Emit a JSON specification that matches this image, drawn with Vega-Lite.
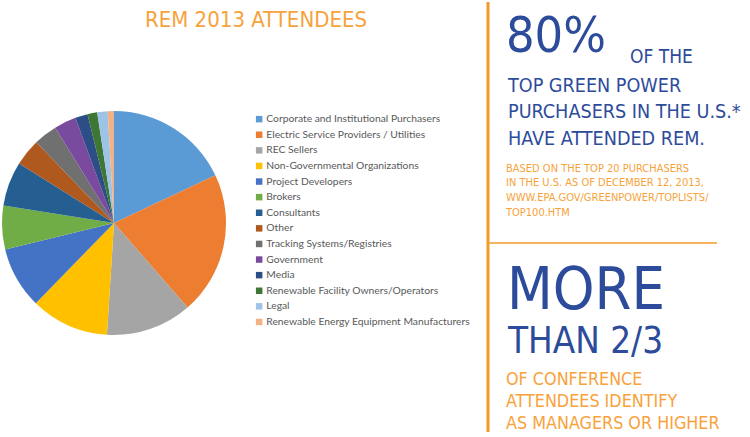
{
  "$schema": "https://vega.github.io/schema/vega-lite/v6.json",
  "width": 750,
  "height": 437,
  "autosize": {"type": "fit", "contains": "padding"},
  "padding": 0,
  "background": "white",
  "config": {"view": {"stroke": null}},
  "data": {
    "values": [
      {"idx": 1, "group": "Corporate and Institutional Purchasers", "share": 18.0},
      {"idx": 2, "group": "Electric Service Providers / Utilities", "share": 20.6},
      {"idx": 3, "group": "REC Sellers", "share": 12.4},
      {"idx": 4, "group": "Non-Governmental Organizations", "share": 11.3},
      {"idx": 5, "group": "Project Developers", "share": 8.9},
      {"idx": 6, "group": "Brokers", "share": 6.3},
      {"idx": 7, "group": "Consultants", "share": 6.4},
      {"idx": 8, "group": "Other", "share": 3.9},
      {"idx": 9, "group": "Tracking Systems/Registries", "share": 3.4},
      {"idx": 10, "group": "Government", "share": 3.2},
      {"idx": 11, "group": "Media", "share": 1.8},
      {"idx": 12, "group": "Renewable Facility Owners/Operators", "share": 1.4},
      {"idx": 13, "group": "Legal", "share": 1.5},
      {"idx": 14, "group": "Renewable Energy Equipment Manufacturers", "share": 0.9}
    ]
  },
  "layer": [
    {
      "mark": {"type": "arc", "outerRadius": 112},
      "encoding": {
        "x": {"datum": 114, "type": "quantitative", "scale": {"domain": [0, 750], "nice": false, "zero": false}, "axis": null},
        "y": {"datum": 222, "type": "quantitative", "scale": {"domain": [0, 437], "nice": false, "zero": false, "reverse": true}, "axis": null},
        "theta": {"field": "share", "type": "quantitative", "stack": true},
        "order": {"field": "idx", "type": "quantitative"},
        "color": {
          "field": "group",
          "type": "nominal",
          "title": null,
          "scale": {
            "domain": [
              "Corporate and Institutional Purchasers",
              "Electric Service Providers / Utilities",
              "REC Sellers",
              "Non-Governmental Organizations",
              "Project Developers",
              "Brokers",
              "Consultants",
              "Other",
              "Tracking Systems/Registries",
              "Government",
              "Media",
              "Renewable Facility Owners/Operators",
              "Legal",
              "Renewable Energy Equipment Manufacturers"
            ],
            "range": ["#5b9bd5", "#ed7d31", "#a5a5a5", "#ffc000", "#4472c4", "#70ad47", "#255e91", "#b0591f", "#707070", "#7a4a9e", "#2c4d85", "#3e7635", "#9dc3e6", "#f4b183"]
          },
          "legend": {
            "orient": "none",
            "legendX": 254,
            "legendY": 112,
            "padding": 0,
            "symbolType": "square",
            "symbolSize": 42,
            "symbolStrokeWidth": 0,
            "labelFont": "Lato",
            "labelFontSize": 10.3,
            "labelColor": "#595959",
            "labelOffset": 2,
            "labelLimit": 300,
            "rowPadding": 4.6
          }
        }
      }
    },
    {
      "data": {"values": [{}]},
      "mark": {"type": "text", "text": "REM 2013 ATTENDEES", "font": "'DejaVu Sans Condensed', 'Liberation Sans', sans-serif", "fontSize": 22, "color": "#f7a23a", "align": "left", "baseline": "alphabetic"},
      "encoding": {"x": {"datum": 145, "type": "quantitative"}, "y": {"datum": 25, "type": "quantitative"}}
    },
    {
      "data": {"values": [{}]},
      "mark": {"type": "rule", "color": "#f39a2b", "strokeWidth": 3},
      "encoding": {"x": {"datum": 488, "type": "quantitative"}, "y": {"datum": 0, "type": "quantitative"}, "y2": {"datum": 432}}
    },
    {
      "data": {"values": [{}]},
      "mark": {"type": "rule", "color": "#f39a2b", "strokeWidth": 1.5},
      "encoding": {"x": {"datum": 489, "type": "quantitative"}, "x2": {"datum": 717}, "y": {"datum": 242, "type": "quantitative"}}
    },
    {
      "data": {"values": [{}]},
      "mark": {"type": "text", "text": "80%", "font": "'DejaVu Sans Condensed', 'Liberation Sans', sans-serif", "fontSize": 50, "color": "#2d4b9b", "align": "left", "baseline": "alphabetic"},
      "encoding": {"x": {"datum": 506, "type": "quantitative"}, "y": {"datum": 50, "type": "quantitative"}}
    },
    {
      "data": {"values": [{}]},
      "mark": {"type": "text", "text": "OF THE", "font": "'DejaVu Sans Condensed', 'Liberation Sans', sans-serif", "fontSize": 19, "color": "#2d4b9b", "align": "left", "baseline": "alphabetic"},
      "encoding": {"x": {"datum": 630, "type": "quantitative"}, "y": {"datum": 61, "type": "quantitative"}}
    },
    {
      "data": {"values": [{}]},
      "mark": {"type": "text", "text": ["TOP GREEN POWER", "PURCHASERS IN THE U.S.*", "HAVE ATTENDED REM."], "lineHeight": 26.5, "font": "'DejaVu Sans Condensed', 'Liberation Sans', sans-serif", "fontSize": 19.6, "color": "#2d4b9b", "align": "left", "baseline": "alphabetic"},
      "encoding": {"x": {"datum": 508, "type": "quantitative"}, "y": {"datum": 90, "type": "quantitative"}}
    },
    {
      "data": {"values": [{}]},
      "mark": {"type": "text", "text": ["BASED ON THE TOP 20 PURCHASERS", "IN THE U.S. AS OF DECEMBER 12, 2013,", "WWW.EPA.GOV/GREENPOWER/TOPLISTS/", "TOP100.HTM"], "lineHeight": 14.7, "font": "'DejaVu Sans Condensed', 'Liberation Sans', sans-serif", "fontSize": 11, "color": "#f7a23a", "align": "left", "baseline": "alphabetic"},
      "encoding": {"x": {"datum": 506, "type": "quantitative"}, "y": {"datum": 170.5, "type": "quantitative"}}
    },
    {
      "data": {"values": [{}]},
      "mark": {"type": "text", "text": "MORE", "font": "'DejaVu Sans Condensed', 'Liberation Sans', sans-serif", "fontSize": 59, "color": "#2d4b9b", "align": "left", "baseline": "alphabetic"},
      "encoding": {"x": {"datum": 507, "type": "quantitative"}, "y": {"datum": 308, "type": "quantitative"}}
    },
    {
      "data": {"values": [{}]},
      "mark": {"type": "text", "text": "THAN 2/3", "font": "'DejaVu Sans Condensed', 'Liberation Sans', sans-serif", "fontSize": 36.5, "color": "#2d4b9b", "align": "left", "baseline": "alphabetic"},
      "encoding": {"x": {"datum": 508, "type": "quantitative"}, "y": {"datum": 353, "type": "quantitative"}}
    },
    {
      "data": {"values": [{}]},
      "mark": {"type": "text", "text": ["OF CONFERENCE", "ATTENDEES IDENTIFY", "AS MANAGERS OR HIGHER"], "lineHeight": 22, "font": "'DejaVu Sans Condensed', 'Liberation Sans', sans-serif", "fontSize": 17.8, "color": "#f7a23a", "align": "left", "baseline": "alphabetic"},
      "encoding": {"x": {"datum": 506, "type": "quantitative"}, "y": {"datum": 385, "type": "quantitative"}}
    }
  ]
}
